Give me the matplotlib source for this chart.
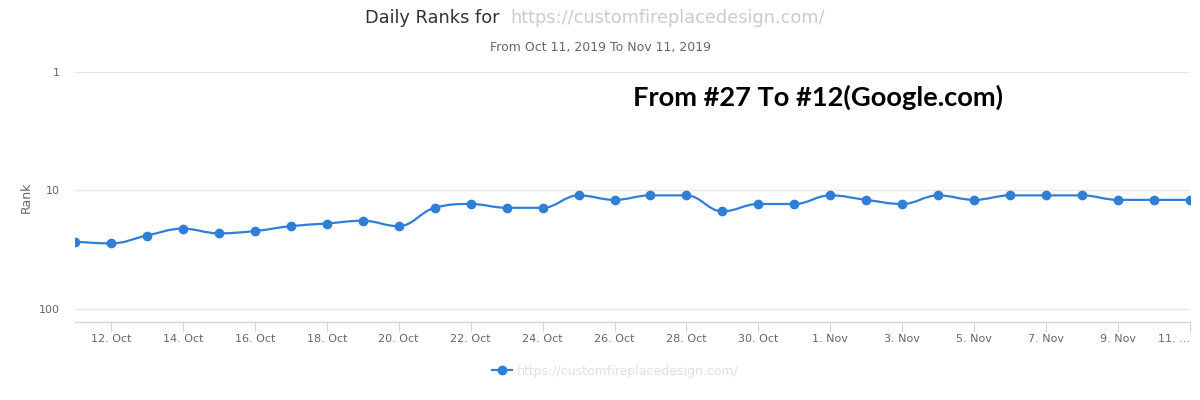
import numpy as np
import matplotlib
matplotlib.use("Agg")
import matplotlib.pyplot as plt
import matplotlib.dates as mdates
from matplotlib.path import Path
from matplotlib.patches import PathPatch
from matplotlib.lines import Line2D
import datetime as dt

# data
start = dt.date(2019, 10, 11)
dates = [start + dt.timedelta(days=i) for i in range(32)]
ranks = [27, 28, 24, 21, 23, 22, 20, 19, 18, 20,
         14, 13, 14, 14, 11, 12, 11, 11, 15, 13, 13,
         11, 12, 13, 11, 12, 11, 11, 11, 12, 12, 12]
tick_dates = dates[1::2]
tick_labels = [f"{d.day}. {d.strftime('%b')}" for d in tick_dates]
tick_labels[-1] = "11. …"
y_ticks = [1, 10, 100]

site = "https://customfireplacedesign.com/"
title = "Daily Ranks for"
subtitle = "From Oct 11, 2019 To Nov 11, 2019"
note = "From #27 To #12(Google.com)"

LINE = "#2f7ed8"


def spline_path(xs, ys, smoothing=1.5):
    # highcharts-style spline, computed in log space for y
    ly = np.log10(ys)
    denom = smoothing + 1
    n = len(xs)
    lc = [None] * n
    rc = [None] * n
    for i in range(1, n - 1):
        px, py = xs[i], ly[i]
        lx_, ly_ = xs[i - 1], ly[i - 1]
        nx, ny = xs[i + 1], ly[i + 1]
        lcx = (smoothing * px + lx_) / denom
        lcy = (smoothing * py + ly_) / denom
        rcx = (smoothing * px + nx) / denom
        rcy = (smoothing * py + ny) / denom
        if rcx != lcx:
            corr = (rcy - lcy) * (rcx - px) / (rcx - lcx) + py - rcy
            lcy += corr
            rcy += corr
        if lcy > ly_ and lcy > py:
            lcy = max(ly_, py)
            rcy = 2 * py - lcy
        elif lcy < ly_ and lcy < py:
            lcy = min(ly_, py)
            rcy = 2 * py - lcy
        if rcy > ny and rcy > py:
            rcy = max(ny, py)
            lcy = 2 * py - rcy
        elif rcy < ny and rcy < py:
            rcy = min(ny, py)
            lcy = 2 * py - rcy
        lc[i] = (lcx, lcy)
        rc[i] = (rcx, rcy)
    verts = [(xs[0], ly[0])]
    codes = [Path.MOVETO]
    for i in range(1, n):
        c1 = rc[i - 1] if rc[i - 1] is not None else (xs[i - 1], ly[i - 1])
        c2 = lc[i] if lc[i] is not None else (xs[i], ly[i])
        verts += [c1, c2, (xs[i], ly[i])]
        codes += [Path.CURVE4] * 3
    verts = [(vx, 10 ** vy) for vx, vy in verts]
    return Path(verts, codes)


fig = plt.figure(figsize=(12, 4), dpi=100)
ax = fig.add_axes([75 / 1200, 1 - 322 / 400, 1115 / 1200, 250 / 400])

xnum = mdates.date2num(dates)
ax.set_yscale("log")
ax.add_patch(PathPatch(spline_path(xnum, ranks), facecolor="none",
                       edgecolor=LINE, lw=1.6, zorder=3))
ax.plot(xnum, ranks, "o", color=LINE, ms=6, mec=LINE, zorder=4)

ax.set_xlim(xnum[0], xnum[-1])
ax.set_ylim(10 ** 2.11, 1)
ax.set_yticks(y_ticks)
ax.set_yticklabels([str(v) for v in y_ticks])
ax.yaxis.set_minor_locator(matplotlib.ticker.NullLocator())
ax.set_xticks(mdates.date2num(tick_dates))
ax.set_xticklabels(tick_labels)
ax.get_xticklabels()[-1].set_horizontalalignment("right")
ax.grid(axis="y", color="#e6e6e6", lw=1)
ax.set_axisbelow(True)
for s in ("top", "right", "left"):
    ax.spines[s].set_visible(False)
ax.spines["bottom"].set_color("#ccd6eb")
ax.spines["bottom"].set_linewidth(1)
ax.tick_params(axis="x", length=7, color="#ccd6eb", labelcolor="#666666",
               labelsize=8, pad=1.5)
ax.tick_params(axis="y", length=0, labelcolor="#666666", labelsize=8, pad=11)
ax.set_ylabel("Rank", color="#666666", fontsize=9, labelpad=4)

fig.text(505 / 1200, 1 - 18 / 400, title + " ", ha="right", va="center",
         fontsize=12.8, color="#333333")
fig.text(510 / 1200, 1 - 18 / 400, site, ha="left", va="center",
         fontsize=12.8, color="#333333", alpha=0.25)
fig.text(0.5, 1 - 47 / 400, subtitle, ha="center", va="center",
         fontsize=9, color="#666666")
fig.text(633 / 1200, 1 - 97 / 400, note, ha="left", va="center",
         fontsize=19.6, fontweight="bold", family="Lato", color="black")

handle = Line2D([], [], color=LINE, lw=1.6, marker="o", ms=6)
leg = fig.legend([handle], [site], loc="center", bbox_to_anchor=(615 / 1200, 1 - 371 / 400),
                 frameon=False, fontsize=9, handlelength=1.6, handletextpad=0.4)
for t in leg.get_texts():
    t.set_color("#333333")
    t.set_alpha(0.15)

fig.savefig("out.png", dpi=100)
